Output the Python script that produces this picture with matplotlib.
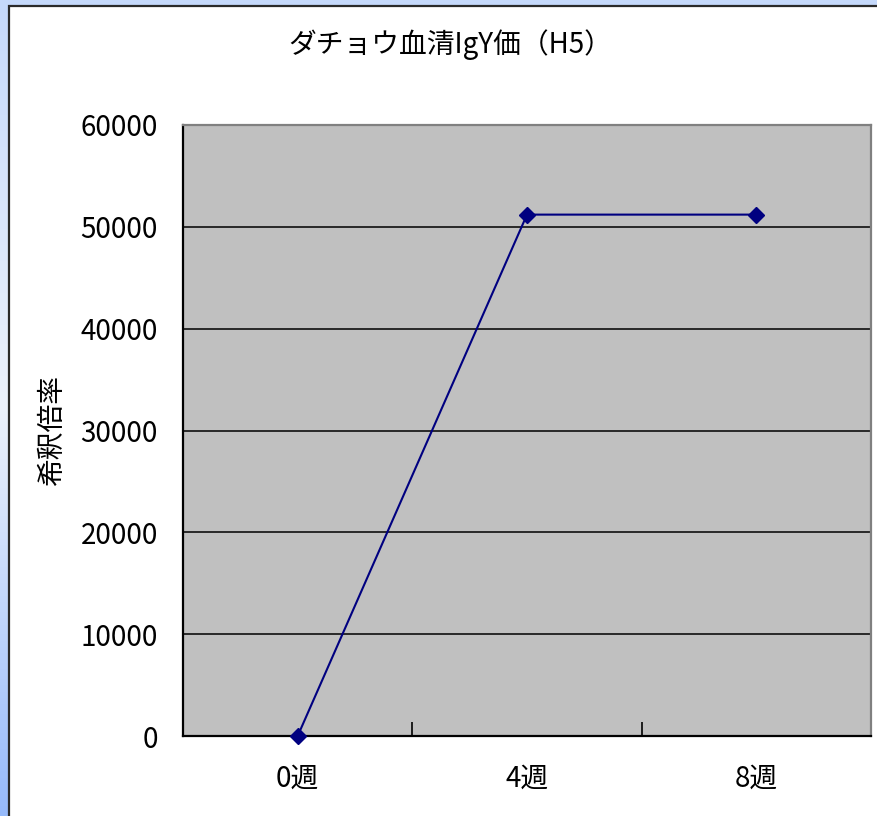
import numpy as np
import matplotlib
matplotlib.use("Agg")
import matplotlib.pyplot as plt
from matplotlib.patches import Rectangle

plt.rcParams['font.family'] = ['Noto Sans CJK JP', 'DejaVu Sans']

# Data
categories = ["0週", "4週", "8週"]
titers = [0, 51200, 51200]
y_ticks = [0, 10000, 20000, 30000, 40000, 50000, 60000]

title_text = "ダチョウ血清IgY価（H5）"
y_label = "希釈倍率"

W, H = 878, 816
fig = plt.figure(figsize=(W / 100, H / 100), dpi=100)

# Background: vertical blue gradient behind the white chart frame
bg = fig.add_axes([0, 0, 1, 1], zorder=-10)
rows = np.linspace(0, 1, 256)
stops_y = [0.0, 0.5, 1.0]
stops_c = np.array([[197, 217, 251], [236, 242, 253], [150, 186, 250]]) / 255.0
grad = np.stack([np.interp(rows, stops_y, stops_c[:, k]) for k in range(3)], axis=-1)
bg.imshow(grad[:, None, :], aspect='auto', extent=[0, 1, 0, 1], origin='upper')
bg.add_patch(Rectangle((9 / W, -0.05), 1.1, (H - 6) / H + 0.05,
                       facecolor='white', edgecolor='#2a2a2a', linewidth=1.6,
                       transform=bg.transAxes))
bg.set_xlim(0, 1)
bg.set_ylim(0, 1)
bg.axis('off')

# Plot area
left, right, top, bottom = 183, 871, 125, 736
ax = fig.add_axes([left / W, (H - bottom) / H, (right - left) / W, (bottom - top) / H])
ax.set_facecolor('#c0c0c0')

x = np.arange(len(categories))
ax.plot(x, titers, color='#000080', linewidth=1.5, marker='D', markersize=8,
        markerfacecolor='#000080', markeredgecolor='#000080', zorder=3, clip_on=False)

ax.set_xlim(-0.5, len(categories) - 0.5)
ax.set_ylim(0, 60000)
ax.set_yticks(y_ticks)
ax.set_yticklabels([str(v) for v in y_ticks])
ax.yaxis.grid(True, color='black', linewidth=1.1)
ax.set_axisbelow(True)

ax.set_xticks(x)
ax.set_xticklabels(categories)
ax.set_xticks(np.arange(len(categories) + 1) - 0.5, minor=True)
ax.tick_params(axis='x', which='major', length=0, pad=20, labelsize=20)
ax.tick_params(axis='x', which='minor', direction='in', length=10, width=1.2, color='black')
ax.tick_params(axis='y', which='major', length=0, pad=18, labelsize=20)

for side in ['left', 'bottom']:
    ax.spines[side].set_color('black')
    ax.spines[side].set_linewidth(1.6)
for side in ['top', 'right']:
    ax.spines[side].set_color('#808080')
    ax.spines[side].set_linewidth(1.6)

ax.set_ylabel(y_label, fontsize=20, labelpad=10)
fig.text(450 / W, 1 - 45 / H, title_text, ha='center', va='center', fontsize=20)

fig.savefig("out.png", dpi=100)
